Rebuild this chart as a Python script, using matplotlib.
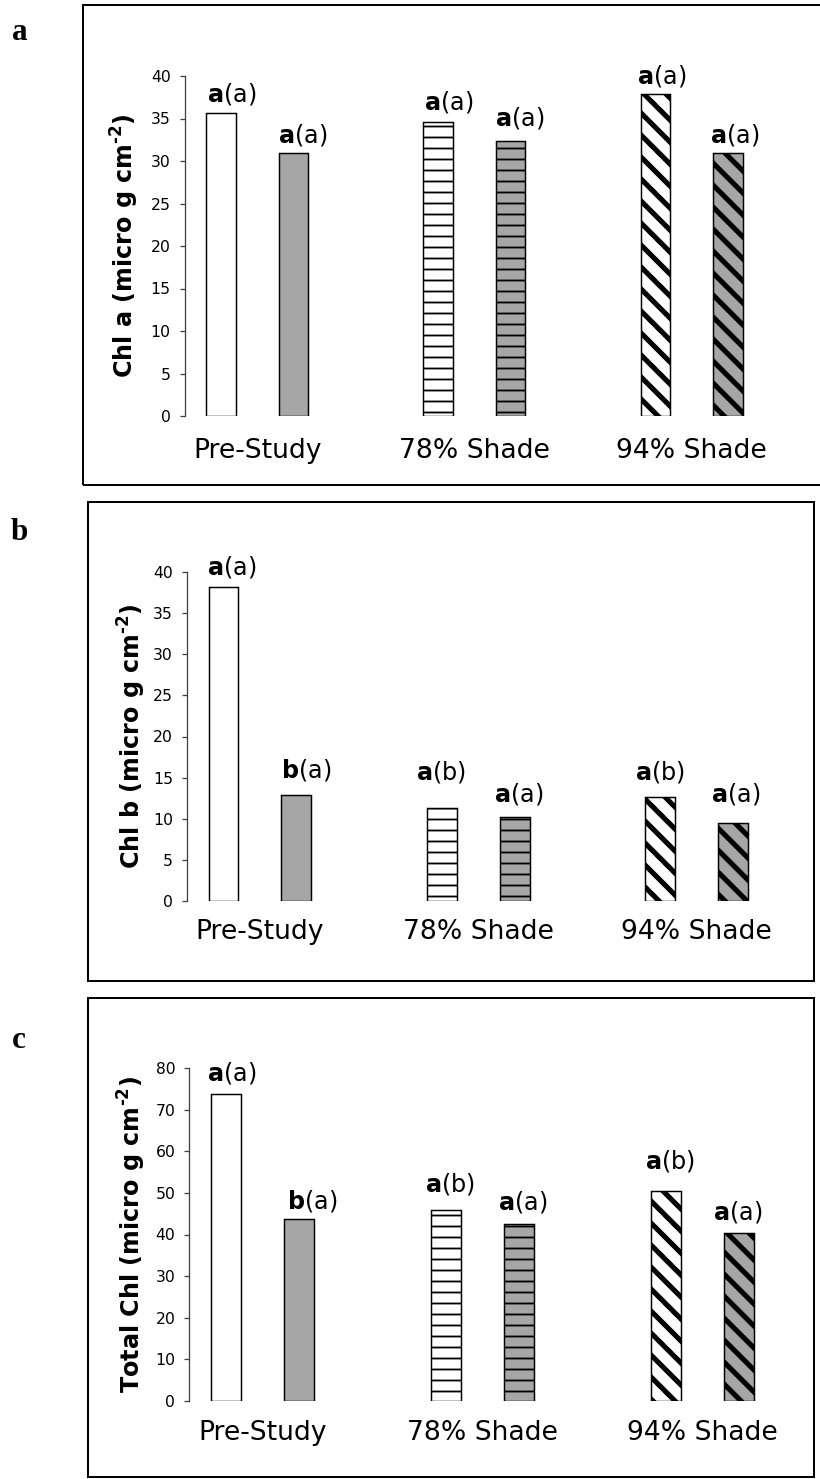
import matplotlib
matplotlib.use("Agg")
import matplotlib.pyplot as plt
from matplotlib.patches import Rectangle

# ---- data ----
groups = ['Pre-Study', '78% Shade', '94% Shade']
chl_a = [35.6, 30.9, 34.6, 32.3, 37.9, 31.0]
chl_b = [38.2, 12.9, 11.3, 10.2, 12.6, 9.5]
total_chl = [73.7, 43.7, 45.8, 42.5, 50.5, 40.4]

letters_a = [('a', 'a'), ('a', 'a'), ('a', 'a'), ('a', 'a'), ('a', 'a'), ('a', 'a')]
letters_b = [('a', 'a'), ('b', 'a'), ('a', 'b'), ('a', 'a'), ('a', 'b'), ('a', 'a')]
letters_c = [('a', 'a'), ('b', 'a'), ('a', 'b'), ('a', 'a'), ('a', 'b'), ('a', 'a')]

ylabels = ['Chl a (micro g cm$^{\\mathbf{\u20102}}$)',
           'Chl b (micro g cm$^{\\mathbf{\u20102}}$)',
           'Total Chl (micro g cm$^{\\mathbf{\u20102}}$)']
yticks = [range(0, 41, 5), range(0, 41, 5), range(0, 81, 10)]

# ---- styling / layout (pixels of the 820x1479 canvas) ----
W, H, DPI = 820, 1479, 132
GRAY = '#a6a6a6'
positions = [0, 1, 3, 4, 6, 7]
colors = ['white', GRAY] * 3
hatches = ['', '', '--', '--', '\\\\', '\\\\']
hatch_lw = [1.0, 1.0, 1.0, 1.0, 2.8, 2.8]

panels = [
    dict(vals=chl_a, lets=letters_a, ax=(184.8, 764, 76, 416), box=(83, 5, 840, 485),
         letter=('a', 20, 32), ylab_x=125, pad=12,
         gap=[6, 5, 7, 10, 5, 4], dx=[1, -1, 1, -1, -4, -3]),
    dict(vals=chl_b, lets=letters_b, ax=(187.1, 769.5, 572, 901), box=(88, 502, 814, 981),
         letter=('b', 19, 533), ylab_x=132, pad=10,
         gap=[7, 12, 23, 10, 12, 16], dx=[-2, 0, -11, -6, -10, -7]),
    dict(vals=total_chl, lets=letters_c, ax=(189.4, 775.8, 1068, 1401), box=(88, 998, 814, 1477),
         letter=('c', 19, 1040), ylab_x=132, pad=10.5,
         gap=[8, 5, 13, 9, 17, 8], dx=[-4, 3, -6, -6, -6, -11]),
]

PT = 72.0 / DPI  # points per pixel

fig = plt.figure(figsize=(W / DPI, H / DPI), dpi=DPI)
fig.patch.set_facecolor('white')

for i, p in enumerate(panels):
    # outer frame
    x0, y0, x1, y1 = p['box']
    fig.add_artist(Rectangle((x0 / W, 1 - y1 / H), (x1 - x0) / W, (y1 - y0) / H,
                             transform=fig.transFigure, fill=False, lw=1.1, ec='black'))
    name, lx, ly = p['letter']
    fig.text(lx / W, 1 - ly / H, name, family='Liberation Serif', weight='bold',
             fontsize=17, ha='center', va='center')

    left, right, top, bottom = p['ax']
    ax = fig.add_axes([left / W, 1 - bottom / H, (right - left) / W, (bottom - top) / H])
    ax.set_facecolor('none')

    width = 0.41
    bars = ax.bar(positions, p['vals'], width=width, color=colors,
                  edgecolor='black', linewidth=0.8, zorder=2)
    for rect, hh, hl in zip(bars, hatches, hatch_lw):
        if hh:
            rect.set_hatch(hh)
            if hasattr(rect, 'set_hatch_linewidth'):
                rect.set_hatch_linewidth(hl)

    for x, v, (b, s), g, d in zip(positions, p['vals'], p['lets'], p['gap'], p['dx']):
        ax.annotate(r'$\mathbf{%s}$(%s)' % (b, s), xy=(x - width / 2, v),
                    xytext=(d * PT, g * PT), textcoords='offset points',
                    ha='left', va='bottom', fontsize=13)

    ymax = yticks[i][-1]
    ax.set_ylim(0, ymax)
    ax.set_xlim(-0.5, 7.5)
    ax.set_yticks(list(yticks[i]))
    ax.set_xticks([0.5, 3.5, 6.5])
    ax.set_xticklabels(groups, fontsize=14.5)
    ax.tick_params(axis='x', length=0, pad=p['pad'])
    ax.tick_params(axis='y', direction='out', length=2.7, width=0.7,
                   color='#404040', labelsize=8.5, pad=5)
    for side in ('top', 'right', 'bottom'):
        ax.spines[side].set_visible(False)
    ax.spines['left'].set_linewidth(0.7)
    ax.spines['left'].set_color('#404040')

    ax.set_ylabel(ylabels[i], fontsize=13, weight='bold')
    ax.yaxis.label.set_verticalalignment('center')
    ax.yaxis.set_label_coords((p['ylab_x'] - left) / (right - left), 0.5)

fig.savefig('out.png', dpi=DPI)
